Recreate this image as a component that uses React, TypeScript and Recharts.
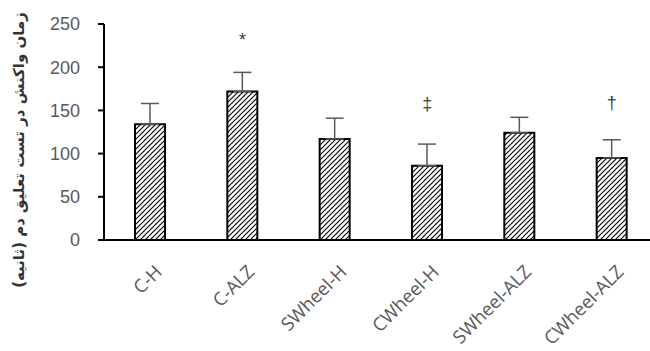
import React from 'react';
import { ComposedChart, Bar, ErrorBar, XAxis, YAxis, Scatter, Label } from 'recharts';

const categories = ['C-H', 'C-ALZ', 'SWheel-H', 'CWheel-H', 'SWheel-ALZ', 'CWheel-ALZ'];
const means = [134, 172, 117, 86, 124, 95];
const sds = [24, 22, 24, 25, 18, 21];
const marks = ['', '*', '', '‡', '', '†'];
const markY = [null, 231, null, 157, null, 159];
const yTicks = [0, 50, 100, 150, 200, 250];
const yLabel = 'زمان واکنش در تست تعلیق دم (ثانیه)';

const data = categories.map((c, i) => ({
  name: c,
  mean: means[i],
  err: [0, sds[i]],
  mark: marks[i],
  markY: markY[i],
}));

const XTick = (props: any) => {
  const { x, y, payload } = props;
  return (
    <g transform={`translate(${x + 13},${y + 33})`}>
      <text
        x={0}
        y={0}
        transform="matrix(0.7071 -0.7071 0.7071 0.7071 0 0)"
        textAnchor="end"
        fill="#595959"
        fontSize={18.5}
        fontFamily="'Open Sans', sans-serif"
      >
        {payload.value}
      </text>
    </g>
  );
};

const MarkShape = (props: any) => {
  const { cx, cy, payload } = props;
  if (!payload || !payload.mark) return null;
  return (
    <text
      x={cx}
      y={cy}
      textAnchor="middle"
      dominantBaseline="central"
      fill="#404040"
      fontSize={18}
      fontFamily="'Liberation Sans', Arial, sans-serif"
    >
      {payload.mark}
    </text>
  );
};

const YLabel = (props: any) => {
  const { viewBox } = props;
  const x = viewBox.x + 19;
  const y = viewBox.y + viewBox.height / 2 + 18;
  return (
    <g transform={`translate(${x},${y})`}>
      <text
        x={0}
        y={0}
        transform="rotate(-90)"
        textAnchor="middle"
        dominantBaseline="central"
        fill="#333333"
        fontSize={15}
        fontWeight="bold"
        fontFamily="'DejaVu Sans', sans-serif"
      >
        {yLabel}
      </text>
    </g>
  );
};

export default function App() {
  return (
    <div style={{ position: 'absolute', left: 0, top: 0, width: 650, height: 351, overflow: 'hidden', background: '#fff' }}>
      <ComposedChart width={658} height={351} data={data} margin={{ top: 24, right: 0, left: 0, bottom: 0 }}>
        <defs>
          <pattern id="hatch" patternUnits="userSpaceOnUse" width="5" height="5">
            <rect width="5" height="5" fill="#fff" />
            <path d="M-1,1 l2,-2 M0,5 l5,-5 M4,6 l2,-2" stroke="#000" strokeWidth="1.1" />
          </pattern>
        </defs>
        <XAxis
          dataKey="name"
          height={111}
          axisLine={{ stroke: '#000', strokeWidth: 2 }}
          tickLine={false}
          tickSize={0}
          tickMargin={0}
          interval={0}
          tick={<XTick />}
        />
        <YAxis
          width={104}
          domain={[0, 250]}
          ticks={yTicks}
          axisLine={{ stroke: '#000', strokeWidth: 2 }}
          tickLine={{ stroke: '#000', strokeWidth: 2 }}
          tickSize={6}
          tickMargin={18}
          tick={{ fill: '#595959', fontSize: 18, fontFamily: "'Liberation Sans', Arial, sans-serif" }}
        >
          <Label content={<YLabel />} />
        </YAxis>
        <Bar dataKey="mean" fill="url(#hatch)" stroke="#000" strokeWidth={2} barSize={30} isAnimationActive={false}>
          <ErrorBar dataKey="err" direction="y" width={9} stroke="#595959" strokeWidth={1.5} />
        </Bar>
        <Scatter dataKey="markY" shape={<MarkShape />} isAnimationActive={false} />
      </ComposedChart>
    </div>
  );
}
